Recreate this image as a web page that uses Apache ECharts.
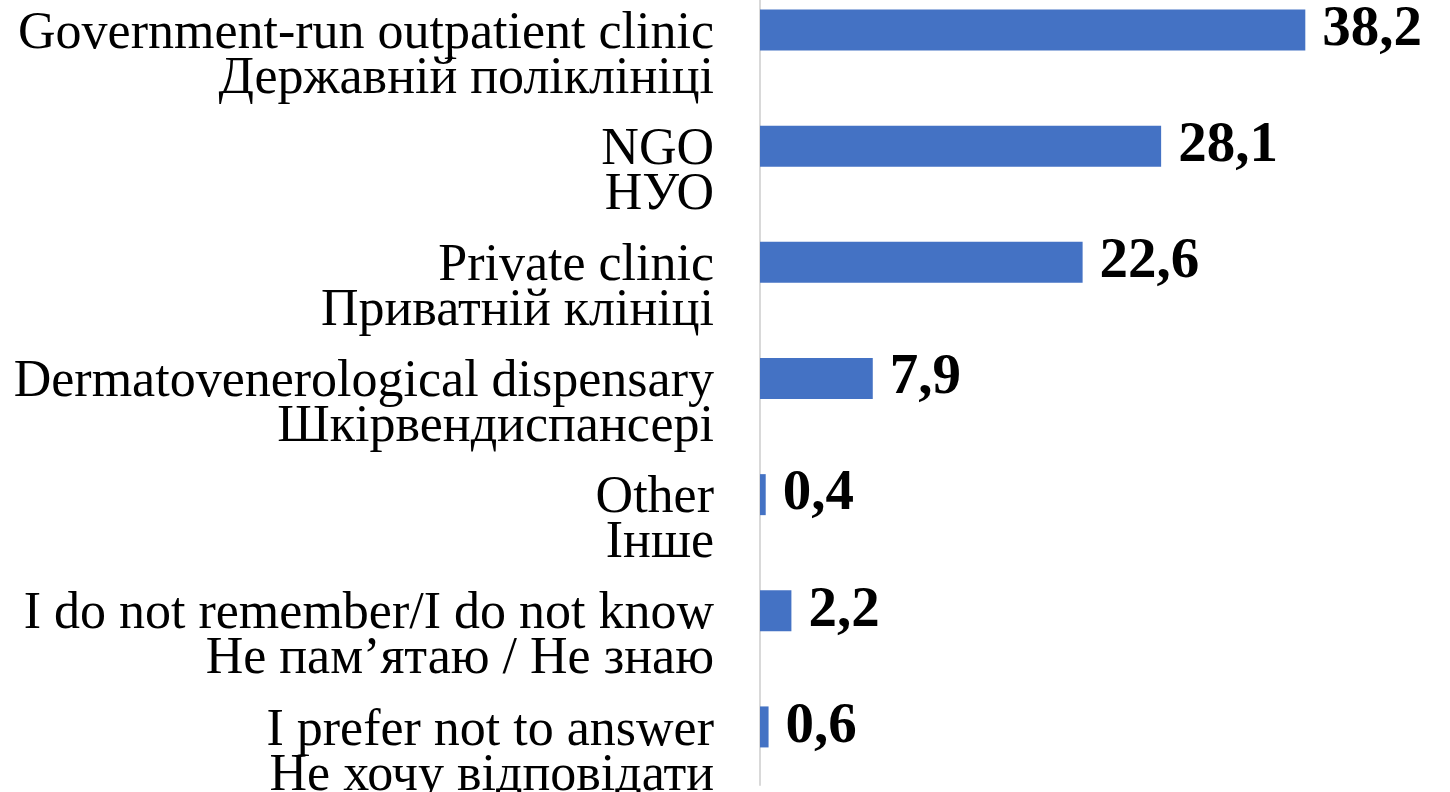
<!DOCTYPE html>
<html>
<head>
<meta charset="utf-8">
<script src="https://cdn.jsdelivr.net/npm/echarts@6/dist/echarts.min.js"></script>
<style>
  html, body { margin: 0; padding: 0; background: #fff; }
  #chart { width: 1450px; height: 792px; }
</style>
</head>
<body>
<div id="chart"></div>
<script>
// categories: english line + ukrainian line
const labelsEn = [
  'Government-run outpatient clinic',
  'NGO',
  'Private clinic',
  'Dermatovenerological dispensary',
  'Other',
  'I do not remember/I do not know',
  'I prefer not to answer'
];
const labelsUa = [
  'Державній поліклініці',
  'НУО',
  'Приватній клініці',
  'Шкірвендиспансері',
  'Інше',
  'Не пам’ятаю / Не знаю',
  'Не хочу відповідати'
];
const values = [38.2, 28.1, 22.6, 7.9, 0.4, 2.2, 0.6];

const categories = labelsEn.map((en, i) => en + '\n' + labelsUa[i]);

const chart = echarts.init(document.getElementById('chart'));

const option = {
  animation: false,
  grid: {
    left: 760,
    width: 571,
    top: -28,
    height: 813,
    outerBoundsMode: 'none'
  },
  xAxis: {
    type: 'value',
    min: 0,
    max: 40,
    show: false
  },
  yAxis: {
    type: 'category',
    data: categories,
    inverse: true,
    axisLine: { show: true, lineStyle: { color: '#d9d9d9', width: 2 } },
    axisTick: { show: false },
    axisLabel: {
      interval: 0,
      showMinLabel: true,
      showMaxLabel: true,
      hideOverlap: false,
      margin: 46,
      color: '#000',
      align: 'right',
      verticalAlign: 'middle',
      // spacer line on top pushes the english line level with the bar
      formatter: (v) => {
        const parts = v.split('\n');
        return '{s| }\n{t|' + parts[0] + '}\n{t|' + parts[1] + '}';
      },
      rich: {
        s: { fontSize: 10, lineHeight: 53 },
        t: { fontFamily: 'Liberation Serif', fontSize: 52, lineHeight: 45, color: '#000' }
      }
    }
  },
  series: [
    {
      type: 'bar',
      data: values,
      barWidth: 41,
      itemStyle: { color: '#4472C4' },
      label: {
        show: true,
        position: 'right',
        distance: 17,
        fontFamily: 'Liberation Serif',
        fontWeight: 'bold',
        fontSize: 57,
        color: '#000',
        formatter: (p) => String(p.value).replace('.', ',')
      }
    }
  ]
};

chart.setOption(option);

window.addEventListener('resize', () => {
  chart.resize();
});
</script>
</body>
</html>
